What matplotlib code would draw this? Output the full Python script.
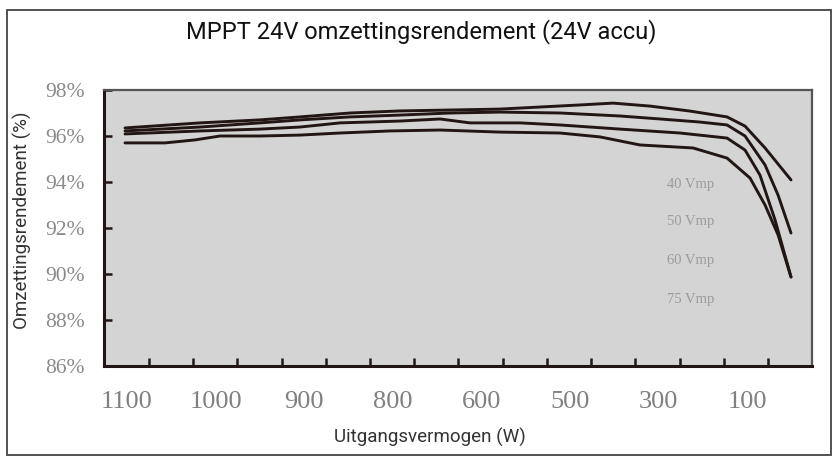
import matplotlib
matplotlib.use("Agg")
import matplotlib.pyplot as plt
from matplotlib.patches import Rectangle

# positions along the category axis (0 = "1100" label, 7 = "100" label)
x_labels = ["1100", "1000", "900", "800", "600", "500", "300", "100"]
y_ticks = [86, 88, 90, 92, 94, 96, 98]

x_40 = [-0.023, 0.824, 1.501, 1.953, 2.517, 3.081, 3.646, 4.210, 4.661, 5.113,
        5.485, 5.903, 6.343, 6.772, 6.975, 7.201, 7.494]
v_40 = [96.35, 96.57, 96.70, 96.83, 97.00, 97.09, 97.13, 97.17, 97.26, 97.35,
        97.43, 97.30, 97.09, 96.83, 96.43, 95.48, 94.09]

x_50 = [-0.023, 0.824, 1.501, 1.953, 2.517, 3.081, 3.646, 4.210, 4.887, 5.564,
        6.016, 6.456, 6.772, 6.975, 7.201, 7.348, 7.494]
v_50 = [96.22, 96.39, 96.57, 96.70, 96.83, 96.91, 97.00, 97.04, 97.00, 96.87,
        96.74, 96.61, 96.48, 96.00, 94.74, 93.43, 91.78]

x_60 = [-0.023, 0.824, 1.501, 1.953, 2.404, 3.081, 3.533, 3.871, 4.436, 4.887,
        5.564, 6.242, 6.772, 6.975, 7.144, 7.314, 7.494]
v_60 = [96.09, 96.22, 96.30, 96.39, 96.57, 96.65, 96.74, 96.57, 96.57, 96.48,
        96.30, 96.13, 95.91, 95.39, 94.30, 92.35, 89.87]

x_75 = [-0.023, 0.429, 0.767, 1.050, 1.501, 1.953, 2.404, 2.968, 3.533, 4.210,
        4.887, 5.339, 5.790, 6.388, 6.772, 7.032, 7.201, 7.348, 7.494]
v_75 = [95.70, 95.70, 95.83, 96.00, 96.00, 96.04, 96.13, 96.22, 96.26, 96.17,
        96.13, 95.96, 95.61, 95.48, 95.04, 94.17, 93.00, 91.70, 89.87]

series = [("40 Vmp", x_40, v_40), ("50 Vmp", x_50, v_50),
          ("60 Vmp", x_60, v_60), ("75 Vmp", x_75, v_75)]
label_y = [93.87, 92.3, 90.6, 88.87]

W, H = 839, 459
fig = plt.figure(figsize=(W / 100, H / 100), dpi=100)
fig.patch.set_facecolor("white")

# outer frame
fig.add_artist(Rectangle((7 / W, 1 - 455 / H), 824 / W, 445 / H, transform=fig.transFigure,
                         fill=False, edgecolor="#444444", linewidth=1.3))

ax = fig.add_axes([104 / W, 1 - 366 / H, 708 / W, 276 / H])
ax.set_facecolor("#d4d4d4")

line_col = "#211613"
for name, xs, vs in series:
    ax.plot(xs, vs, color=line_col, linewidth=2.1, solid_joinstyle="round",
            solid_capstyle="round")

for (name, _, _), ly in zip(series, label_y):
    ax.text(6.36, ly, name, family="Liberation Serif", fontsize=10.5,
            color="#9a9a9a", ha="center", va="center")

ax.set_xlim(-0.26, 7.731)
ax.set_ylim(86, 98)

ax.set_yticks(y_ticks)
ax.set_yticklabels([f"{t}%" for t in y_ticks], family="Liberation Serif",
                   fontsize=15.5, color="#8a8a8a")
ax.tick_params(axis="y", direction="in", length=6, width=1.8, color=line_col,
               pad=14, left=True, right=False)

ax.set_xticks(range(len(x_labels)))
ax.set_xticklabels(x_labels, family="Liberation Serif", fontsize=19, color="#808080")
ax.set_xticks([0.248 + 0.499 * k for k in range(15)], minor=True)
ax.tick_params(axis="x", which="major", length=0, pad=18)
ax.tick_params(axis="x", which="minor", direction="in", length=6, width=1.8,
               color=line_col, top=False)

for side in ("left", "bottom"):
    ax.spines[side].set_linewidth(2.2)
    ax.spines[side].set_color(line_col)
for side in ("top", "right"):
    ax.spines[side].set_linewidth(1.6)
    ax.spines[side].set_color("#555555")

fig.text(421 / W, 1 - 32 / H, "MPPT 24V omzettingsrendement (24V accu)",
         family="Roboto", fontsize=17, ha="center", va="center", color="#111111")
fig.text(22 / W, 1 - 220 / H, "Omzettingsrendement (%)", family="Roboto",
         fontsize=13.5, rotation=90, ha="center", va="center", color="#333333")
fig.text(430 / W, 1 - 437 / H, "Uitgangsvermogen (W)", family="Roboto",
         fontsize=13.5, ha="center", va="center", color="#333333")

fig.savefig("out.png", dpi=100)
